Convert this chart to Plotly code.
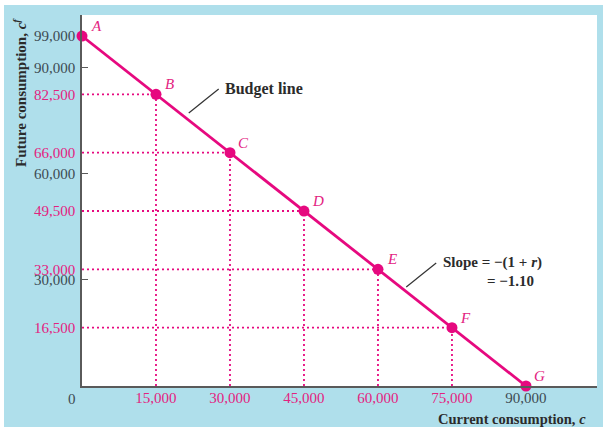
import plotly.graph_objects as go

# ---------------- data ----------------
point_labels = ["A", "B", "C", "D", "E", "F", "G"]
current_consumption = [0, 15000, 30000, 45000, 60000, 75000, 90000]
future_consumption = [99000, 82500, 66000, 49500, 33000, 16500, 0]

x_tick_vals = [15000, 30000, 45000, 60000, 75000, 90000]
x_tick_text = ["15,000", "30,000", "45,000", "60,000", "75,000", "90,000"]
x_tick_pink = [True, True, True, True, True, False]

y_tick_vals = [99000, 90000, 82500, 66000, 60000, 49500, 33000, 30000, 16500]
y_tick_text = ["99,000", "90,000", "82,500", "66,000", "60,000", "49,500", "33,000", "30,000", "16,500"]
y_tick_pink = [False, False, True, True, False, True, True, False, True]
marked_y_ticks = [90000, 60000, 30000]

# ---------------- style ----------------
PINK = "#e6097f"
PINK_TXT = "#e3227f"
DARK = "#3d4b52"
BLUE = "#afdfeb"
SERIF = "Liberation Serif"

L, R, T, B = 82, 597, 15, 386          # plot area in pixels
W, H = 603, 430


def px(xpix):
    return (xpix - L) / (R - L)


def py(ypix):
    return (B - ypix) / (B - T)


def colored(texts, pinks):
    return [f"<span style='color:{PINK_TXT}'>{t}</span>" if p else t for t, p in zip(texts, pinks)]


fig = go.Figure()

# drop lines (dotted) for interior points
dx, dy = [], []
for cx, fy in zip(current_consumption[1:-1], future_consumption[1:-1]):
    dx += [0, cx, None, cx, cx, None]
    dy += [fy, fy, None, 0, fy, None]
fig.add_trace(go.Scatter(x=dx, y=dy, mode="lines", hoverinfo="skip",
                         line=dict(color=PINK, width=1.8, dash="2px,3px"),
                         cliponaxis=False, showlegend=False))

# budget line with points
fig.add_trace(go.Scatter(x=current_consumption, y=future_consumption, mode="lines+markers",
                         line=dict(color=PINK, width=2.8),
                         marker=dict(color=PINK, size=11),
                         cliponaxis=False, showlegend=False))

annotations = []
for lab, cx, fy in zip(point_labels, current_consumption, future_consumption):
    annotations.append(dict(x=cx, y=fy, xref="x", yref="y", text=f"<i>{lab}</i>", showarrow=False,
                            xshift=14, yshift=10,
                            font=dict(family=SERIF, size=15, color=PINK_TXT)))

annotations += [
    dict(x=px(223), y=py(89), xref="paper", yref="paper", xanchor="left", yanchor="middle",
         text="<b>Budget line</b>", showarrow=False, font=dict(family=SERIF, size=16, color="#2b2b2b")),
    dict(x=px(441), y=py(262), xref="paper", yref="paper", xanchor="left", yanchor="middle",
         text="<b>Slope = \u2212(1 + <i>r</i>)</b>", showarrow=False,
         font=dict(family=SERIF, size=15, color="#2b2b2b")),
    dict(x=px(485), y=py(281), xref="paper", yref="paper", xanchor="left", yanchor="middle",
         text="<b>= \u22121.10</b>", showarrow=False,
         font=dict(family=SERIF, size=15, color="#2b2b2b")),
    dict(x=px(20), y=py(93), xref="paper", yref="paper", xanchor="center", yanchor="middle",
         textangle=-90, text="<b>Future consumption, <i>c</i><sup><i>f</i></sup></b>", showarrow=False,
         font=dict(family=SERIF, size=15, color="#2b2b2b")),
    dict(x=px(588), y=py(419), xref="paper", yref="paper", xanchor="right", yanchor="middle",
         text="<b>Current consumption, <i>c</i></b>", showarrow=False,
         font=dict(family=SERIF, size=14.5, color="#2b2b2b")),
    dict(x=px(72), y=py(399), xref="paper", yref="paper", xanchor="center", yanchor="middle",
         text="0", showarrow=False, font=dict(family=SERIF, size=15, color=DARK)),
]

shapes = [
    dict(type="rect", xref="paper", yref="paper", x0=px(4), x1=px(W), y0=py(427), y1=py(5),
         fillcolor=BLUE, line=dict(width=0), layer="below"),
    dict(type="rect", xref="paper", yref="paper", x0=0, x1=1, y0=0, y1=1,
         fillcolor="white", line=dict(width=0), layer="below"),
    # leader lines
    dict(type="line", xref="x", yref="y", x0=21640, y0=77230, x1=27710, y1=84020,
         line=dict(color="#333333", width=1.2)),
    dict(type="line", xref="x", yref="y", x0=65730, y0=28010, x1=71800, y1=34800,
         line=dict(color="#333333", width=1.2)),
]

fig.update_layout(
    width=W, height=H,
    margin=dict(l=L, r=W - R, t=T, b=H - B, pad=0),
    paper_bgcolor="white", plot_bgcolor="white",
    showlegend=False,
    annotations=annotations, shapes=shapes,
    xaxis=dict(range=[0, 104400], showgrid=False, zeroline=False,
               showline=True, linecolor="#5a5a5a", linewidth=1.5,
               tickmode="array", tickvals=x_tick_vals, ticktext=colored(x_tick_text, x_tick_pink),
               ticks="", ticklabelstandoff=-3,
               tickfont=dict(family=SERIF, size=15, color=DARK)),
    yaxis=dict(range=[0, 104950], showgrid=False, zeroline=False,
               showline=True, linecolor="#5a5a5a", linewidth=1.5,
               tickmode="array", tickvals=y_tick_vals, ticktext=colored(y_tick_text, y_tick_pink),
               ticks="", ticklabelstandoff=2,
               tickfont=dict(family=SERIF, size=15, color=DARK),
               minor=dict(tickmode="array", tickvals=marked_y_ticks, ticks="inside",
                          ticklen=6, tickcolor="#5a5a5a", tickwidth=1.2, showgrid=False)),
)

fig.write_html("out.html", config={"displayModeBar": False},
               post_script="document.body.style.margin='0';")
